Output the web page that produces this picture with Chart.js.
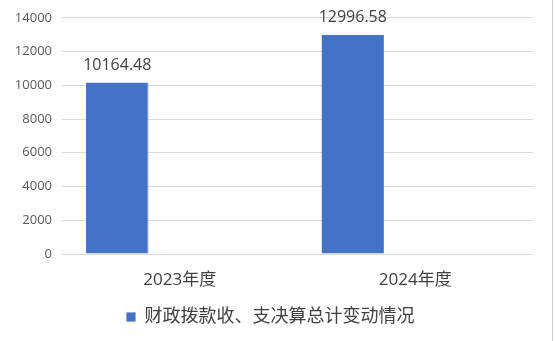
<!DOCTYPE html>
<html>
<head>
<meta charset="utf-8">
<script src="https://cdn.jsdelivr.net/npm/chart.js@4"></script>
<style>
  html, body { margin: 0; padding: 0; background: #fff; }
  #wrap { width: 552px; height: 341px; border-right: 1px solid #d0d0d0; }
</style>
</head>
<body>
<div id="wrap"><canvas id="chart" width="552" height="341"></canvas></div>
<script>
// 数据
const years = ['2023年度', '2024年度'];
const totals = [10164.48, 12996.58];
const seriesName = '财政拨款收、支决算总计变动情况';
const yTicks = [0, 2000, 4000, 6000, 8000, 10000, 12000, 14000];

const fontFamily = '"Open Sans", "Noto Sans CJK SC", sans-serif';

// 柱顶数值标签
const valueLabels = {
  id: 'valueLabels',
  afterDatasetsDraw(chart) {
    const ctx = chart.ctx;
    const meta = chart.getDatasetMeta(0);
    ctx.save();
    ctx.font = '16px ' + fontFamily;
    ctx.fillStyle = '#404040';
    ctx.textAlign = 'center';
    ctx.textBaseline = 'bottom';
    meta.data.forEach((bar, i) => {
      ctx.fillText(totals[i].toFixed(2), bar.x, bar.y - 9);
    });
    ctx.restore();
  }
};

new Chart(document.getElementById('chart'), {
  type: 'bar',
  data: {
    labels: years,
    datasets: [
      { label: seriesName, data: totals, backgroundColor: '#4472C4', borderColor: '#5b8ae0', borderWidth: { left: 0, right: 1, top: 0, bottom: 0 } },
      { label: '', data: [null, null], backgroundColor: '#ED7D31' },
      { label: '', data: [null, null], backgroundColor: '#A5A5A5' }
    ]
  },
  options: {
    responsive: false,
    animation: false,
    layout: { padding: { left: 8, right: 19, top: 4, bottom: 5 } },
    datasets: {
      bar: { barPercentage: 1, categoryPercentage: 0.796 }
    },
    scales: {
      x: {
        grid: { display: false, drawTicks: false },
        border: { display: false },
        afterFit(axis) { axis.height = 44; },
        ticks: { color: '#404040', font: { size: 17, family: fontFamily }, padding: 16 }
      },
      y: {
        min: 0,
        max: 14000,
        afterBuildTicks(axis) { axis.ticks = yTicks.map(v => ({ value: v })); },
        afterFit(axis) { axis.width = 54; },
        grid: { color: '#d9d9d9', drawTicks: false },
        border: { display: false },
        ticks: {
          color: '#595959',
          font: { size: 13, family: fontFamily },
          padding: 10,
          callback: v => String(v)
        }
      }
    },
    plugins: {
      legend: {
        position: 'bottom',
        labels: {
          filter: item => item.datasetIndex === 0,
          boxWidth: 9,
          boxHeight: 9,
          padding: 10,
          color: '#404040',
          font: { size: 18, family: fontFamily }
        }
      },
      tooltip: { enabled: false }
    }
  },
  plugins: [valueLabels]
});
</script>
</body>
</html>
